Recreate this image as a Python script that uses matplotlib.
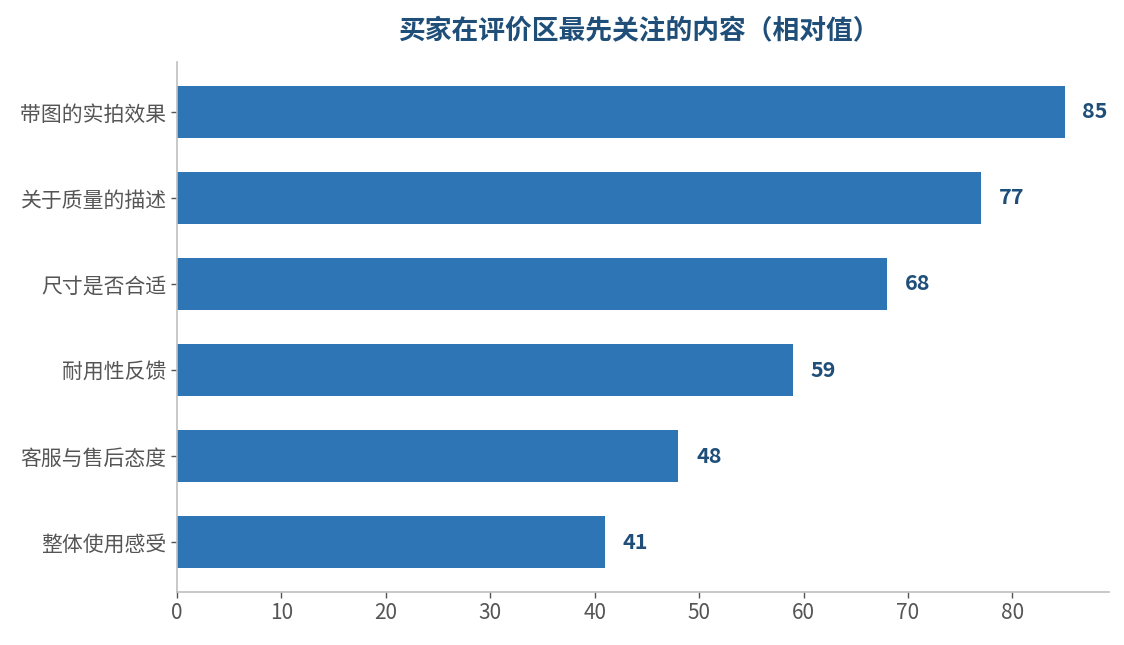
import matplotlib
matplotlib.use("Agg")
import matplotlib.pyplot as plt

plt.rcParams['font.family'] = ['Noto Sans CJK SC', 'DejaVu Sans']

categories = ["带图的实拍效果", "关于质量的描述", "尺寸是否合适", "耐用性反馈", "客服与售后态度", "整体使用感受"]
values = [85, 77, 68, 59, 48, 41]
xticks = [0, 10, 20, 30, 40, 50, 60, 70, 80]
title = "买家在评价区最先关注的内容（相对值）"

bar_color = "#2e75b6"
label_color = "#1f4e79"
tick_color = "#555555"
spine_color = "#bfbfbf"

fig = plt.figure(figsize=(11.24, 6.45), dpi=100)
ax = fig.add_axes([0.1575, 0.0822, 0.8292, 0.8217])

ypos = list(range(len(categories)))
bars = ax.barh(ypos, values, height=0.6, color=bar_color)
ax.invert_yaxis()
ax.set_yticks(ypos)
ax.set_yticklabels(categories)
ax.set_xticks(xticks)
ax.set_xlim(0, max(values) * 1.05)

for y, v in zip(ypos, values):
    ax.text(v + 1.7, y, str(v), va='center', ha='left', fontsize=15.5,
            fontweight='bold', color=label_color)

for s in ['top', 'right']:
    ax.spines[s].set_visible(False)
for s in ['left', 'bottom']:
    ax.spines[s].set_color(spine_color)
    ax.spines[s].set_linewidth(1.2)

ax.tick_params(axis='both', colors=tick_color, labelsize=15, length=4, width=1)
ax.tick_params(axis='both', color=tick_color)
for lbl in ax.get_xticklabels() + ax.get_yticklabels():
    lbl.set_color(tick_color)

fig.suptitle(title, x=0.568, y=0.973, fontsize=19.3, fontweight='bold', color=label_color, va='top')

fig.savefig("out.png", dpi=100)
